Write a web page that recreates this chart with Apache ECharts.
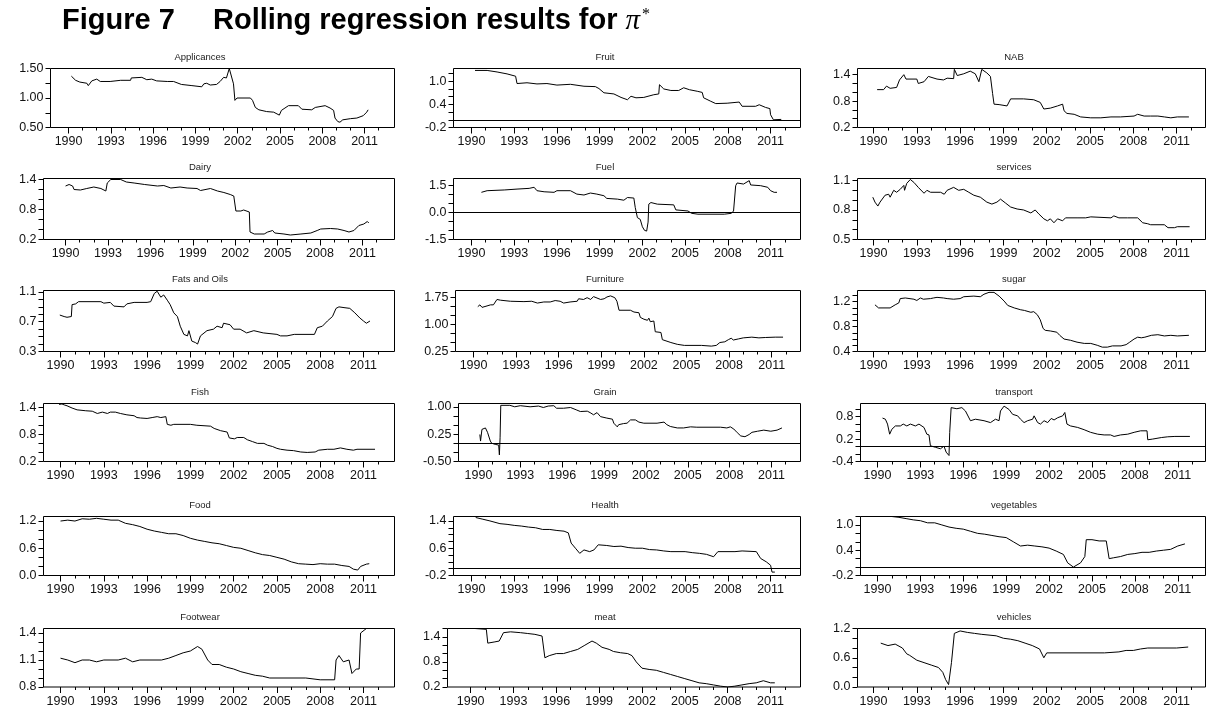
<!DOCTYPE html>
<html>
<head>
<meta charset="utf-8">
<script src="https://cdn.jsdelivr.net/npm/echarts@6/dist/echarts.min.js"></script>
<style>
  html, body { margin: 0; padding: 0; background: #fff; }
  #chart { width: 1207px; height: 708px; }
</style>
</head>
<body>
<div id="chart"></div>
<script>
// ---- Rolling estimates of pi* by expenditure group: [year, estimate] ----
const appliances = [[1990.2,1.37],[1990.5,1.30],[1990.8,1.27],[1991.3,1.25],[1991.4,1.21],[1991.65,1.29],[1992,1.32],[1992.25,1.28],[1992.95,1.28],[1993.7,1.30],[1994.4,1.30],[1994.45,1.34],[1995.2,1.35],[1995.55,1.31],[1995.9,1.32],[1996.25,1.29],[1997,1.28],[1997.45,1.28],[1998,1.23],[1998.75,1.21],[1999.45,1.19],[1999.6,1.24],[1999.8,1.25],[2000.05,1.22],[2000.5,1.23],[2000.75,1.28],[2001,1.35],[2001.2,1.34],[2001.4,1.50],[2001.5,1.47],[2001.7,1.24],[2001.8,0.96],[2001.95,1.0],[2002.9,1.0],[2003.05,0.96],[2003.25,0.84],[2003.5,0.80],[2004.05,0.77],[2004.55,0.76],[2004.95,0.71],[2005.1,0.79],[2005.35,0.83],[2005.6,0.87],[2006.3,0.87],[2006.55,0.81],[2007.25,0.80],[2007.5,0.84],[2008.2,0.87],[2008.55,0.83],[2008.8,0.79],[2008.9,0.66],[2009.1,0.60],[2009.25,0.59],[2009.45,0.63],[2010,0.65],[2010.45,0.66],[2010.9,0.70],[2011.15,0.76],[2011.25,0.80]];
const fruit = [[1990.25,1.28],[1991.1,1.28],[1991.8,1.24],[1992.5,1.19],[1993.1,1.13],[1993.2,0.94],[1993.9,0.96],[1994.6,0.93],[1995.3,0.94],[1996,0.90],[1996.95,0.92],[1997.9,0.87],[1998.7,0.86],[1998.95,0.81],[1999.3,0.70],[2000,0.67],[2000.5,0.58],[2000.95,0.52],[2001.2,0.61],[2001.55,0.57],[2002.1,0.58],[2002.8,0.65],[2003.15,0.67],[2003.2,0.91],[2003.5,0.80],[2004,0.76],[2004.55,0.76],[2004.9,0.83],[2005.3,0.78],[2005.85,0.74],[2006.2,0.71],[2006.3,0.57],[2006.8,0.48],[2007.15,0.42],[2007.95,0.43],[2008.8,0.46],[2009,0.35],[2009.95,0.35],[2010.2,0.39],[2010.65,0.32],[2010.95,0.29],[2011,0.13],[2011.2,0.0],[2011.75,0.01]];
const nab = [[1990.25,1.06],[1990.7,1.06],[1990.9,1.14],[1991.15,1.09],[1991.6,1.11],[1991.8,1.28],[1992.1,1.40],[1992.25,1.30],[1993,1.30],[1993.1,1.20],[1993.5,1.24],[1993.8,1.36],[1994.4,1.30],[1994.85,1.28],[1995.1,1.32],[1995.55,1.31],[1995.6,1.52],[1995.8,1.38],[1996.25,1.42],[1996.7,1.48],[1997.05,1.42],[1997.3,1.24],[1997.5,1.52],[1997.85,1.44],[1998.1,1.36],[1998.25,0.97],[1998.35,0.73],[1998.7,0.72],[1999.25,0.69],[1999.5,0.85],[2000.4,0.85],[2001.1,0.83],[2001.55,0.77],[2001.8,0.62],[2002.25,0.64],[2002.75,0.69],[2003.1,0.73],[2003.2,0.58],[2003.4,0.52],[2003.9,0.50],[2004.35,0.44],[2005.05,0.42],[2005.75,0.42],[2006.45,0.44],[2007.1,0.44],[2008.05,0.46],[2008.3,0.50],[2008.75,0.46],[2009.2,0.46],[2009.7,0.46],[2010.15,0.44],[2010.6,0.42],[2011.05,0.44],[2011.85,0.44]];
const dairy = [[1990.0,1.27],[1990.25,1.30],[1990.5,1.27],[1990.6,1.20],[1991.05,1.19],[1991.5,1.22],[1992,1.25],[1992.5,1.22],[1992.85,1.17],[1992.95,1.33],[1993.2,1.40],[1993.9,1.40],[1994.3,1.35],[1994.85,1.33],[1995.6,1.30],[1996.5,1.27],[1996.95,1.28],[1997.45,1.23],[1998.1,1.25],[1998.6,1.23],[1999.3,1.22],[1999.55,1.18],[2000.25,1.22],[2000.75,1.17],[2001.2,1.14],[2001.65,1.10],[2001.9,1.07],[2002.05,0.77],[2002.4,0.77],[2002.6,0.79],[2003,0.75],[2003.05,0.35],[2003.35,0.31],[2004.05,0.31],[2004.3,0.35],[2004.65,0.38],[2004.8,0.33],[2005.45,0.31],[2005.9,0.29],[2006.65,0.31],[2007.35,0.33],[2007.8,0.38],[2008.05,0.41],[2008.75,0.42],[2009.25,0.41],[2009.7,0.38],[2010.05,0.35],[2010.4,0.38],[2010.75,0.48],[2011.1,0.51],[2011.35,0.56],[2011.45,0.53]];
const fuel = [[1990.7,1.13],[1991.1,1.22],[1992.3,1.26],[1993.2,1.31],[1994.05,1.35],[1994.4,1.41],[1994.6,1.22],[1995.1,1.16],[1995.8,1.13],[1996,1.22],[1996.95,1.22],[1997.4,1.03],[1997.9,0.98],[1998.35,1.09],[1998.8,1.03],[1999.3,0.94],[1999.5,0.79],[2000.25,0.75],[2000.7,0.69],[2000.95,0.84],[2001.4,0.81],[2001.5,0.28],[2001.65,-0.28],[2001.85,-0.38],[2002,-0.79],[2002.15,-0.99],[2002.3,-1.03],[2002.4,-0.53],[2002.45,0.47],[2002.6,0.56],[2003.05,0.47],[2004.2,0.43],[2004.35,0.15],[2005.2,0.09],[2005.45,-0.04],[2005.9,-0.09],[2007.75,-0.09],[2008.25,-0.04],[2008.4,0.09],[2008.55,1.50],[2008.65,1.65],[2009.1,1.59],[2009.5,1.78],[2009.6,1.54],[2010.3,1.50],[2010.8,1.41],[2011,1.22],[2011.25,1.13],[2011.45,1.13]];
const services = [[1989.95,0.93],[1990.1,0.88],[1990.3,0.84],[1990.45,0.88],[1990.8,0.95],[1991.05,0.96],[1991.15,0.93],[1991.4,1.0],[1991.6,0.98],[1991.85,1.01],[1992.1,1.05],[1992.15,1.0],[1992.3,1.07],[1992.55,1.11],[1992.8,1.08],[1993.1,1.03],[1993.5,0.97],[1993.7,1.0],[1993.95,0.98],[1994.65,0.98],[1994.9,0.96],[1995.1,1.0],[1995.55,1.03],[1995.9,1.0],[1996.25,1.01],[1996.6,0.98],[1996.95,0.95],[1997.4,0.93],[1997.85,0.88],[1998.2,0.86],[1998.55,0.88],[1998.8,0.91],[1999.15,0.87],[1999.5,0.83],[1999.95,0.81],[2000.4,0.80],[2000.9,0.77],[2001.2,0.80],[2001.45,0.76],[2001.8,0.71],[2002.05,0.69],[2002.25,0.71],[2002.5,0.67],[2002.75,0.71],[2003.1,0.69],[2003.3,0.72],[2004.1,0.72],[2004.7,0.72],[2005.05,0.73],[2006.45,0.72],[2006.65,0.74],[2007.0,0.72],[2007.6,0.72],[2008.3,0.72],[2008.65,0.67],[2009.0,0.66],[2009.2,0.65],[2010.15,0.65],[2010.4,0.62],[2010.85,0.62],[2011.05,0.63],[2011.9,0.63]];
const fatsOils = [[1989.95,0.79],[1990.25,0.77],[1990.45,0.76],[1990.75,0.77],[1990.8,0.93],[1991.05,0.94],[1991.25,0.97],[1992.8,0.97],[1993.0,0.95],[1993.45,0.96],[1993.7,0.91],[1994.4,0.90],[1994.6,0.94],[1995.1,0.96],[1996.0,0.96],[1996.25,0.97],[1996.5,1.08],[1996.7,1.11],[1996.95,1.03],[1997.15,1.06],[1997.4,0.99],[1997.6,0.93],[1997.85,0.82],[1998.1,0.77],[1998.3,0.64],[1998.55,0.53],[1998.8,0.51],[1998.9,0.58],[1999.1,0.44],[1999.35,0.42],[1999.5,0.40],[1999.7,0.51],[2000.15,0.58],[2000.6,0.60],[2000.85,0.64],[2001.2,0.62],[2001.3,0.68],[2001.75,0.66],[2002.0,0.60],[2002.45,0.60],[2002.9,0.55],[2003.4,0.58],[2004.05,0.55],[2005.0,0.53],[2005.25,0.51],[2005.7,0.51],[2006.2,0.53],[2007.6,0.53],[2007.8,0.62],[2008.15,0.64],[2008.5,0.71],[2008.85,0.77],[2009.1,0.88],[2009.3,0.90],[2009.65,0.89],[2010.05,0.88],[2010.4,0.82],[2010.75,0.75],[2011.0,0.71],[2011.2,0.68],[2011.45,0.71]];
const furniture = [[1990.3,1.50],[1990.45,1.55],[1990.6,1.48],[1990.95,1.52],[1991.2,1.55],[1991.4,1.55],[1991.65,1.70],[1991.9,1.68],[1992.6,1.65],[1993.55,1.64],[1994.1,1.65],[1994.5,1.60],[1994.95,1.63],[1995.4,1.63],[1995.75,1.67],[1996.1,1.65],[1996.35,1.60],[1996.8,1.63],[1997.3,1.65],[1997.4,1.72],[1997.75,1.70],[1998.0,1.75],[1998.25,1.70],[1998.45,1.78],[1998.95,1.70],[1999.2,1.72],[1999.4,1.77],[1999.65,1.80],[1999.95,1.75],[2000.1,1.65],[2000.25,1.40],[2001.05,1.40],[2001.3,1.35],[2001.65,1.33],[2001.75,1.20],[2002.0,1.15],[2002.25,1.12],[2002.35,1.18],[2002.45,1.08],[2002.7,1.10],[2002.8,0.80],[2003.2,0.78],[2003.3,0.58],[2003.4,0.55],[2003.9,0.50],[2004.35,0.45],[2004.85,0.42],[2006.05,0.42],[2006.75,0.40],[2007.1,0.42],[2007.35,0.50],[2007.7,0.52],[2007.95,0.58],[2008.15,0.62],[2008.3,0.57],[2008.65,0.60],[2009.0,0.63],[2009.6,0.65],[2010.1,0.63],[2010.55,0.64],[2011.25,0.65],[2011.8,0.65]];
const sugar = [[1990.1,1.15],[1990.35,1.10],[1991.15,1.10],[1991.5,1.15],[1991.75,1.18],[1991.85,1.25],[1992.2,1.26],[1992.8,1.24],[1993.0,1.22],[1993.25,1.26],[1993.45,1.24],[1993.95,1.25],[1994.15,1.26],[1994.4,1.27],[1994.85,1.26],[1995.1,1.25],[1995.55,1.24],[1996.0,1.25],[1996.25,1.28],[1996.95,1.29],[1997.4,1.28],[1997.65,1.32],[1998.0,1.35],[1998.1,1.38],[1998.35,1.35],[1998.7,1.29],[1999.05,1.21],[1999.3,1.14],[1999.75,1.10],[2000.2,1.07],[2000.45,1.06],[2000.9,1.03],[2001.1,1.04],[2001.35,0.99],[2001.55,0.91],[2001.75,0.77],[2001.9,0.74],[2002.25,0.73],[2002.7,0.71],[2002.9,0.66],[2003.2,0.60],[2003.65,0.58],[2004.1,0.55],[2004.6,0.53],[2005.05,0.53],[2005.5,0.50],[2005.85,0.47],[2006.2,0.47],[2006.55,0.49],[2007.15,0.49],[2007.5,0.51],[2007.75,0.55],[2008.05,0.60],[2008.3,0.63],[2008.55,0.62],[2008.8,0.63],[2009.25,0.66],[2009.7,0.67],[2010.15,0.65],[2010.6,0.66],[2011.05,0.65],[2011.85,0.66]];
const fish = [[1989.9,1.46],[1990.1,1.47],[1990.25,1.45],[1990.45,1.43],[1990.8,1.38],[1991.15,1.34],[1991.75,1.32],[1992.2,1.31],[1992.55,1.26],[1992.9,1.29],[1993.25,1.26],[1993.45,1.29],[1993.8,1.29],[1994.15,1.26],[1994.6,1.23],[1995.1,1.21],[1995.3,1.17],[1995.55,1.16],[1996.0,1.15],[1996.35,1.17],[1996.7,1.19],[1996.95,1.17],[1997.3,1.19],[1997.4,1.02],[1997.65,1.0],[1997.85,1.02],[1999.0,1.02],[1999.45,1.0],[2000.4,0.98],[2000.65,0.93],[2001.1,0.88],[2001.55,0.85],[2001.7,0.72],[2002.05,0.70],[2002.25,0.73],[2002.7,0.73],[2002.95,0.68],[2003.3,0.64],[2003.65,0.60],[2004.1,0.60],[2004.35,0.56],[2004.7,0.53],[2005.0,0.49],[2005.25,0.47],[2005.7,0.45],[2006.15,0.44],[2006.65,0.41],[2007.1,0.40],[2007.65,0.41],[2007.9,0.45],[2008.5,0.47],[2008.95,0.47],[2009.4,0.50],[2009.85,0.47],[2010.3,0.45],[2010.55,0.47],[2011.8,0.47]];
const grain = [[1990.1,0.24],[1990.15,0.06],[1990.25,0.38],[1990.5,0.42],[1990.6,0.45],[1990.65,0.30],[1990.85,0.06],[1990.95,0.0],[1991.2,-0.03],[1991.45,-0.05],[1991.5,-0.32],[1991.55,0.15],[1991.6,1.04],[1991.65,1.07],[1992.25,1.04],[1992.6,1.0],[1993.0,1.03],[1993.7,1.0],[1994.3,1.02],[1994.65,0.98],[1995.0,1.02],[1995.4,1.03],[1995.6,0.96],[1996.1,0.96],[1996.6,0.98],[1997.05,0.91],[1997.3,0.87],[1997.8,0.88],[1998.0,0.84],[1998.25,0.78],[1998.5,0.84],[1998.75,0.73],[1999.2,0.69],[1999.6,0.66],[1999.7,0.55],[1999.95,0.45],[2000.05,0.51],[2000.4,0.54],[2000.65,0.55],[2000.9,0.64],[2001.25,0.64],[2001.5,0.58],[2001.85,0.55],[2002.8,0.55],[2003.3,0.58],[2003.5,0.51],[2003.75,0.46],[2004.25,0.42],[2004.7,0.42],[2005.2,0.45],[2005.65,0.44],[2007.35,0.44],[2007.8,0.42],[2008.05,0.45],[2008.3,0.39],[2008.55,0.29],[2008.8,0.20],[2009.1,0.18],[2009.4,0.24],[2009.6,0.30],[2010.0,0.33],[2010.45,0.36],[2010.95,0.33],[2011.4,0.36],[2011.75,0.42]];
const transport = [[1990.35,0.76],[1990.55,0.73],[1990.7,0.60],[1990.85,0.33],[1991.0,0.46],[1991.25,0.55],[1991.35,0.60],[1991.6,0.55],[1991.8,0.60],[1992.05,0.55],[1992.3,0.60],[1992.65,0.55],[1992.9,0.60],[1993.25,0.51],[1993.45,0.33],[1993.6,0.31],[1993.7,0.02],[1994.05,-0.02],[1994.4,-0.06],[1994.65,0.01],[1994.8,-0.15],[1995.0,-0.24],[1995.05,0.38],[1995.15,1.04],[1995.55,1.01],[1995.9,1.04],[1996.15,0.95],[1996.5,0.69],[1996.85,0.73],[1997.45,0.69],[1997.9,0.64],[1998.25,0.73],[1998.5,0.69],[1998.6,0.95],[1998.85,1.08],[1999.2,0.99],[1999.45,0.86],[1999.8,0.82],[2000.0,0.73],[2000.25,0.64],[2000.5,0.69],[2000.85,0.73],[2000.95,0.82],[2001.2,0.64],[2001.4,0.60],[2001.65,0.69],[2001.9,0.64],[2002.15,0.75],[2002.35,0.71],[2002.6,0.77],[2002.95,0.82],[2003.1,0.91],[2003.25,0.60],[2003.5,0.55],[2004.0,0.51],[2004.45,0.45],[2004.9,0.38],[2005.4,0.33],[2005.85,0.31],[2006.3,0.31],[2006.55,0.27],[2007.0,0.31],[2007.5,0.33],[2007.95,0.38],[2008.4,0.42],[2008.85,0.42],[2008.9,0.18],[2009.25,0.20],[2009.85,0.24],[2010.3,0.26],[2010.8,0.27],[2011.85,0.27]];
const food = [[1990.0,1.2],[1990.5,1.22],[1991,1.2],[1991.5,1.25],[1992,1.24],[1992.5,1.26],[1993,1.24],[1993.5,1.22],[1994,1.22],[1994.5,1.15],[1995,1.12],[1995.5,1.08],[1996,1.02],[1996.5,0.98],[1997,0.95],[1997.5,0.92],[1998,0.92],[1998.5,0.88],[1999,0.82],[1999.5,0.78],[2000,0.75],[2000.5,0.72],[2001,0.7],[2001.5,0.66],[2002,0.62],[2002.5,0.6],[2003,0.55],[2003.5,0.5],[2004,0.46],[2004.5,0.44],[2005,0.4],[2005.5,0.36],[2006,0.3],[2006.5,0.26],[2007,0.25],[2007.5,0.24],[2008,0.26],[2008.5,0.25],[2009,0.25],[2009.5,0.22],[2010,0.2],[2010.3,0.14],[2010.6,0.12],[2010.8,0.2],[2011.2,0.25],[2011.4,0.26]];
const health = [[1990.3,1.5],[1990.8,1.45],[1991.3,1.4],[1992,1.32],[1992.5,1.3],[1993,1.27],[1993.5,1.25],[1994,1.22],[1994.5,1.2],[1995,1.15],[1995.5,1.15],[1996,1.12],[1996.5,1.1],[1996.8,1.05],[1997,0.75],[1997.3,0.6],[1997.6,0.45],[1997.9,0.55],[1998.3,0.5],[1998.6,0.55],[1998.9,0.7],[1999.5,0.68],[2000,0.65],[2000.5,0.66],[2001,0.62],[2001.5,0.6],[2002,0.6],[2002.5,0.56],[2003,0.55],[2003.5,0.52],[2004,0.5],[2005,0.5],[2005.5,0.47],[2006,0.45],[2006.5,0.42],[2007,0.35],[2007.3,0.5],[2008.5,0.5],[2009,0.52],[2010,0.5],[2010.3,0.3],[2010.7,0.2],[2011,0.1],[2011.1,-0.1],[2011.3,-0.1]];
const vegetables = [[1990.5,1.2],[1991,1.2],[1991.5,1.18],[1992,1.15],[1992.5,1.12],[1993,1.1],[1993.5,1.05],[1994,1.05],[1994.5,1.0],[1995,0.95],[1995.5,0.92],[1996,0.9],[1996.5,0.85],[1997,0.8],[1997.5,0.78],[1998,0.75],[1998.5,0.72],[1999,0.7],[1999.5,0.6],[2000,0.5],[2000.5,0.52],[2001,0.5],[2001.5,0.48],[2002,0.45],[2002.5,0.38],[2003,0.3],[2003.3,0.1],[2003.7,0.0],[2004.2,0.1],[2004.5,0.25],[2004.6,0.65],[2005,0.65],[2005.5,0.62],[2006,0.62],[2006.2,0.2],[2006.5,0.22],[2007,0.25],[2007.5,0.3],[2008,0.32],[2008.5,0.35],[2009,0.35],[2009.5,0.38],[2010,0.4],[2010.5,0.42],[2011,0.5],[2011.5,0.55]];
const footwear = [[1990,1.12],[1990.5,1.1],[1991,1.07],[1991.5,1.1],[1992,1.1],[1992.5,1.08],[1993,1.1],[1994,1.1],[1994.5,1.12],[1995,1.08],[1995.5,1.1],[1997,1.1],[1997.5,1.12],[1998,1.15],[1998.5,1.18],[1999,1.2],[1999.5,1.25],[1999.8,1.22],[2000.2,1.1],[2000.5,1.05],[2001,1.05],[2001.5,1.02],[2002,1.0],[2002.5,0.97],[2003,0.95],[2003.5,0.93],[2004,0.92],[2004.5,0.9],[2007,0.9],[2008,0.88],[2009,0.88],[2009.1,1.1],[2009.3,1.15],[2009.6,1.08],[2010,1.1],[2010.2,0.95],[2010.5,1.0],[2010.7,1.0],[2010.8,1.4],[2011.2,1.45]];
const meat = [[1990.3,1.6],[1991.1,1.58],[1991.2,1.25],[1991.7,1.28],[1992,1.3],[1992.3,1.5],[1992.8,1.52],[1993.5,1.5],[1994,1.48],[1994.5,1.46],[1995,1.42],[1995.2,0.9],[1995.5,0.95],[1996,1.0],[1996.5,1.0],[1997,1.05],[1997.5,1.1],[1998,1.2],[1998.5,1.3],[1998.8,1.25],[1999.2,1.15],[1999.7,1.1],[2000,1.05],[2000.5,1.02],[2001,1.0],[2001.3,0.95],[2001.6,0.8],[2002,0.65],[2002.5,0.62],[2003,0.6],[2003.5,0.55],[2004,0.5],[2004.5,0.45],[2005,0.4],[2005.5,0.35],[2006,0.3],[2006.5,0.28],[2007,0.25],[2007.5,0.22],[2008,0.2],[2008.5,0.22],[2009,0.25],[2009.5,0.28],[2010,0.3],[2010.5,0.35],[2011,0.3],[2011.3,0.3]];
const vehicles = [[1990.5,0.9],[1991,0.85],[1991.5,0.88],[1992,0.8],[1992.3,0.68],[1992.5,0.65],[1993,0.55],[1993.5,0.5],[1994,0.45],[1994.5,0.4],[1994.8,0.3],[1995,0.15],[1995.2,0.05],[1995.4,0.5],[1995.6,1.1],[1996,1.15],[1996.5,1.12],[1997,1.1],[1997.5,1.08],[1998.5,1.05],[1999,1.0],[1999.5,0.98],[2000,0.95],[2000.5,0.9],[2001,0.85],[2001.5,0.78],[2001.8,0.6],[2002,0.7],[2006,0.7],[2007,0.72],[2007.5,0.75],[2008,0.75],[2008.5,0.78],[2009,0.8],[2011,0.8],[2011.8,0.82]];

// ---- Panel titles, y ranges and y tick labels (row by row, left to right) ----
const panelNames = ['Applicances','Fruit','NAB','Dairy','Fuel','services','Fats and Oils','Furniture','sugar','Fish','Grain','transport','Food','Health','vegetables','Footwear','meat','vehicles'];
const panelSeries = [appliances, fruit, nab, dairy, fuel, services, fatsOils, furniture, sugar, fish, grain, transport, food, health, vegetables, footwear, meat, vehicles];
const yMins = [0.5, -0.2, 0.2, 0.2, -1.5, 0.5, 0.3, 0.25, 0.4, 0.2, -0.5, -0.4, 0.0, -0.2, -0.2, 0.8, 0.2, 0.0];
const yMaxs = [1.5, 1.33, 1.54, 1.42, 1.9, 1.12, 1.12, 1.95, 1.38, 1.48, 1.09, 1.15, 1.3, 1.53, 1.2, 1.45, 1.6, 1.2];
const yTickLabels = [
  ['0.50','1.00','1.50'], ['-0.2','0.4','1.0'], ['0.2','0.8','1.4'],
  ['0.2','0.8','1.4'], ['-1.5','0.0','1.5'], ['0.5','0.8','1.1'],
  ['0.3','0.7','1.1'], ['0.25','1.00','1.75'], ['0.4','0.8','1.2'],
  ['0.2','0.8','1.4'], ['-0.50','0.25','1.00'], ['-0.4','0.2','0.8'],
  ['0.0','0.6','1.2'], ['-0.2','0.6','1.4'], ['-0.2','0.4','1.0'],
  ['0.8','1.1','1.4'], ['0.2','0.8','1.4'], ['0.0','0.6','1.2']
];
const yMinorSteps = [0.25, 0.2, 0.2, 0.2, 0.5, 0.1, 0.1, 0.25, 0.1, 0.2, 0.25, 0.2, 0.2, 0.2, 0.2, 0.1, 0.2, 0.2];
const xTickLabels = ['1990','1993','1996','1999','2002','2005','2008','2011'];
const xMinorYears = [1991,1992,1994,1995,1997,1998,2000,2001,2003,2004,2006,2007,2009,2010,2012];

// ---- Layout: plot rectangles (px) and the year span each plot covers ----
const rowTop = [68, 178, 290, 403, 516, 628];
const rowBottom = [127, 239, 351, 461, 575, 687];
const colRight = [394, 800, 1205];
const colTitleX = [200, 605, 1014];
const plotLeft = [50, 453, 857, 43, 453, 857, 43, 455, 857, 43, 458, 860, 43, 453, 860, 43, 447, 857];
const yearSpan = [
  [1988.72, 2013.12], [1988.74, 2013.1], [1988.89, 2013.0],
  [1988.44, 2013.27], [1988.74, 2013.1], [1988.89, 2013.0],
  [1988.82, 2013.15], [1988.73, 2013.03], [1988.89, 2013.0],
  [1988.82, 2013.15], [1988.57, 2013.08], [1988.81, 2012.94],
  [1988.82, 2013.15], [1988.74, 2013.1], [1988.81, 2012.94],
  [1988.82, 2013.15], [1988.38, 2013.1], [1988.89, 2013.0]
];

const FONT = '"Liberation Sans", Arial, Helvetica, sans-serif';
const grids = [], xAxes = [], yAxes = [], series = [], graphics = [];

panelNames.forEach((name, i) => {
  const row = Math.floor(i / 3), col = i % 3;
  const left = plotLeft[i] + 0.5, top = rowTop[row] + 0.5;
  const width = colRight[col] - plotLeft[i], height = rowBottom[row] - rowTop[row];
  const yMin = yMins[i], yMax = yMaxs[i];
  const labelVals = yTickLabels[i].map(Number);
  const step = yMinorSteps[i];
  const yTicks = [];
  for (let k = 0; yMin + k * step <= yMax + 1e-9; k++) yTicks.push(+(yMin + k * step).toFixed(4));
  const xMajor = xTickLabels.map(Number);

  grids.push({ left, top, width, height, show: true, borderColor: '#000', borderWidth: 1, backgroundColor: 'transparent' });

  // labelled years with the longer ticks
  xAxes.push({
    gridIndex: i, type: 'value', min: yearSpan[i][0], max: yearSpan[i][1], position: 'bottom',
    axisLine: { show: false, onZero: false }, splitLine: { show: false },
    axisTick: { show: true, customValues: xMajor, length: 6, lineStyle: { color: '#000', width: 1 } },
    axisLabel: {
      show: true, customValues: xMajor, margin: 8,
      formatter: v => xTickLabels[xMajor.indexOf(Math.round(v))] || '',
      fontFamily: FONT, fontSize: 12.5, color: '#111'
    }
  });
  // unlabelled years with short ticks
  xAxes.push({
    gridIndex: i, type: 'value', min: yearSpan[i][0], max: yearSpan[i][1], position: 'bottom',
    axisLine: { show: false, onZero: false }, splitLine: { show: false }, axisLabel: { show: false },
    axisTick: { show: true, customValues: xMinorYears, length: 3, lineStyle: { color: '#000', width: 1 } }
  });
  yAxes.push({
    gridIndex: i, type: 'value', min: yMin, max: yMax,
    axisLine: { show: false, onZero: false }, splitLine: { show: false },
    axisTick: { show: true, customValues: yTicks, length: 5, lineStyle: { color: '#000', width: 1 } },
    axisLabel: {
      show: true, customValues: labelVals, margin: 7,
      formatter: v => {
        let best = 0;
        labelVals.forEach((lv, k) => { if (Math.abs(lv - v) < Math.abs(labelVals[best] - v)) best = k; });
        return yTickLabels[i][best];
      },
      fontFamily: FONT, fontSize: 12.5, color: '#111'
    }
  });

  const s = {
    type: 'line', xAxisIndex: 2 * i, yAxisIndex: i, data: panelSeries[i],
    symbol: 'none', showSymbol: false, clip: true, animation: false, silent: true,
    lineStyle: { color: '#000', width: 1 }
  };
  if (yMin < 0) {
    s.markLine = {
      silent: true, symbol: ['none', 'none'], animation: false, label: { show: false },
      lineStyle: { color: '#000', width: 1, type: 'solid' },
      data: [{ yAxis: 0 }]
    };
  }
  series.push(s);

  graphics.push({
    type: 'text', x: colTitleX[col], y: rowTop[row] - 11,
    style: { text: name, align: 'center', verticalAlign: 'middle', font: '9.5px ' + FONT, fill: '#222' }
  });
});

// Figure heading
graphics.push({
  type: 'text', x: 62, y: 21,
  style: { text: 'Figure 7', align: 'left', verticalAlign: 'middle', font: 'bold 29px ' + FONT, fill: '#000' }
});
graphics.push({
  type: 'text', x: 213, y: 21,
  style: {
    text: '{t|Rolling regression results for }{p|π}{s|*}', align: 'left', verticalAlign: 'middle',
    rich: {
      t: { font: 'bold 29px ' + FONT, fill: '#000' },
      p: { font: 'italic 29px "Liberation Serif", "Times New Roman", serif', fill: '#000' },
      s: { font: '16px "Liberation Serif", "Times New Roman", serif', fill: '#000', verticalAlign: 'top', padding: [0, 0, 10, 2] }
    }
  }
});

const chart = echarts.init(document.getElementById('chart'), null, { renderer: 'canvas' });
chart.setOption({
  animation: false,
  backgroundColor: '#fff',
  grid: grids, xAxis: xAxes, yAxis: yAxes, series,
  graphic: graphics
});
</script>
</body>
</html>
